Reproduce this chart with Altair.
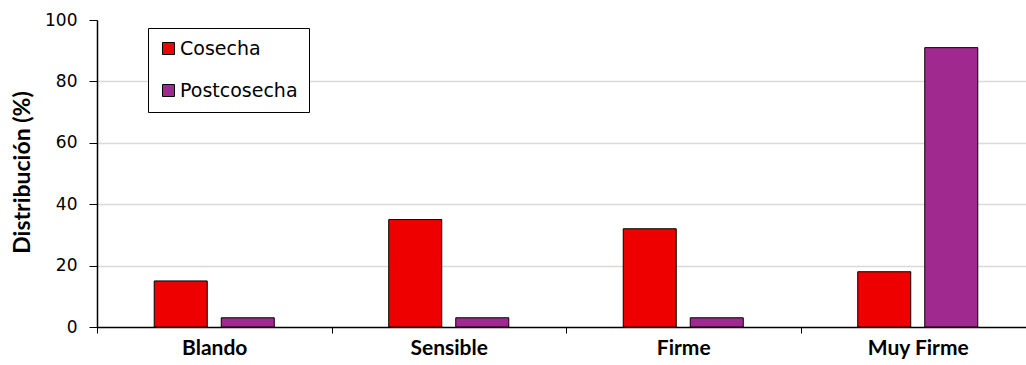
import altair as alt
import pandas as pd

# Firmness classes and the two sampling moments
categorias = ["Blando", "Sensible", "Firme", "Muy Firme"]
series = ["Cosecha", "Postcosecha"]
cosecha = [15, 35, 32, 18]
postcosecha = [3, 3, 3, 91]
colores = ["#EE0000", "#A0298F"]
ticks_y = [0, 20, 40, 60, 80, 100]

filas = []
for cat, c, p in zip(categorias, cosecha, postcosecha):
    filas.append({"Categoria": cat, "Serie": "Cosecha", "Valor": c})
    filas.append({"Categoria": cat, "Serie": "Postcosecha", "Valor": p})
df = pd.DataFrame(filas)

chart = (
    alt.Chart(df)
    .mark_bar(stroke="black", strokeWidth=1)
    .encode(
        x=alt.X(
            "Categoria:N",
            sort=categorias,
            scale=alt.Scale(domain=categorias, range=[0, 938], paddingInner=0, paddingOuter=0),
            axis=alt.Axis(
                title=None,
                tickBand="extent",
                labelAngle=0,
                labelFont="Lato",
                labelFontWeight="bold",
                labelFontSize=21,
                labelColor="black",
                labelPadding=4,
                tickSize=6,
                tickColor="black",
                domainColor="black",
                domainWidth=1.5,
                grid=False,
            ),
        ),
        xOffset=alt.XOffset(
            "Serie:N", sort=series, scale=alt.Scale(domain=series, paddingInner=0.209, paddingOuter=0.854)
        ),
        y=alt.Y(
            "Valor:Q",
            scale=alt.Scale(domain=[0, 100], nice=False),
            axis=alt.Axis(
                values=ticks_y,
                title="Distribución (%)",
                titleFont="Lato",
                titleFontWeight="bold",
                titleFontSize=23,
                titleColor="black",
                titleX=-75,
                titleY=152,
                titleBaseline="middle",
                labelFont="DejaVu Sans",
                labelFontSize=17,
                labelColor="black",
                labelPadding=12,
                tickSize=8,
                tickColor="black",
                domainColor="black",
                domainWidth=1.5,
                gridColor={
                    "condition": {"test": "datum.value === 0 || datum.value === 100", "value": "transparent"},
                    "value": "#d9d9d9",
                },
                gridWidth=1.5,
            ),
        ),
        color=alt.Color(
            "Serie:N",
            scale=alt.Scale(domain=series, range=colores),
            legend=alt.Legend(
                title=None,
                orient="none",
                legendX=51,
                legendY=8,
                direction="vertical",
                strokeColor="black",
                fillColor="white",
                padding=11,
                symbolType="square",
                symbolSize=144,
                symbolStrokeColor="black",
                symbolStrokeWidth=1,
                symbolOpacity=1,
                labelFont="DejaVu Sans",
                labelFontSize=19,
                labelColor="black",
                labelOffset=2,
                rowPadding=22,
                cornerRadius=0,
            ),
        ),
    )
    .properties(
        width=929,
        height=307,
        autosize=alt.AutoSizeParams(type="none"),
        padding={"left": 97, "top": 20, "right": 0, "bottom": 38},
    )
    .configure_view(stroke=None)
)

chart.save("out.html", embed_options={"renderer": "svg", "actions": False})
